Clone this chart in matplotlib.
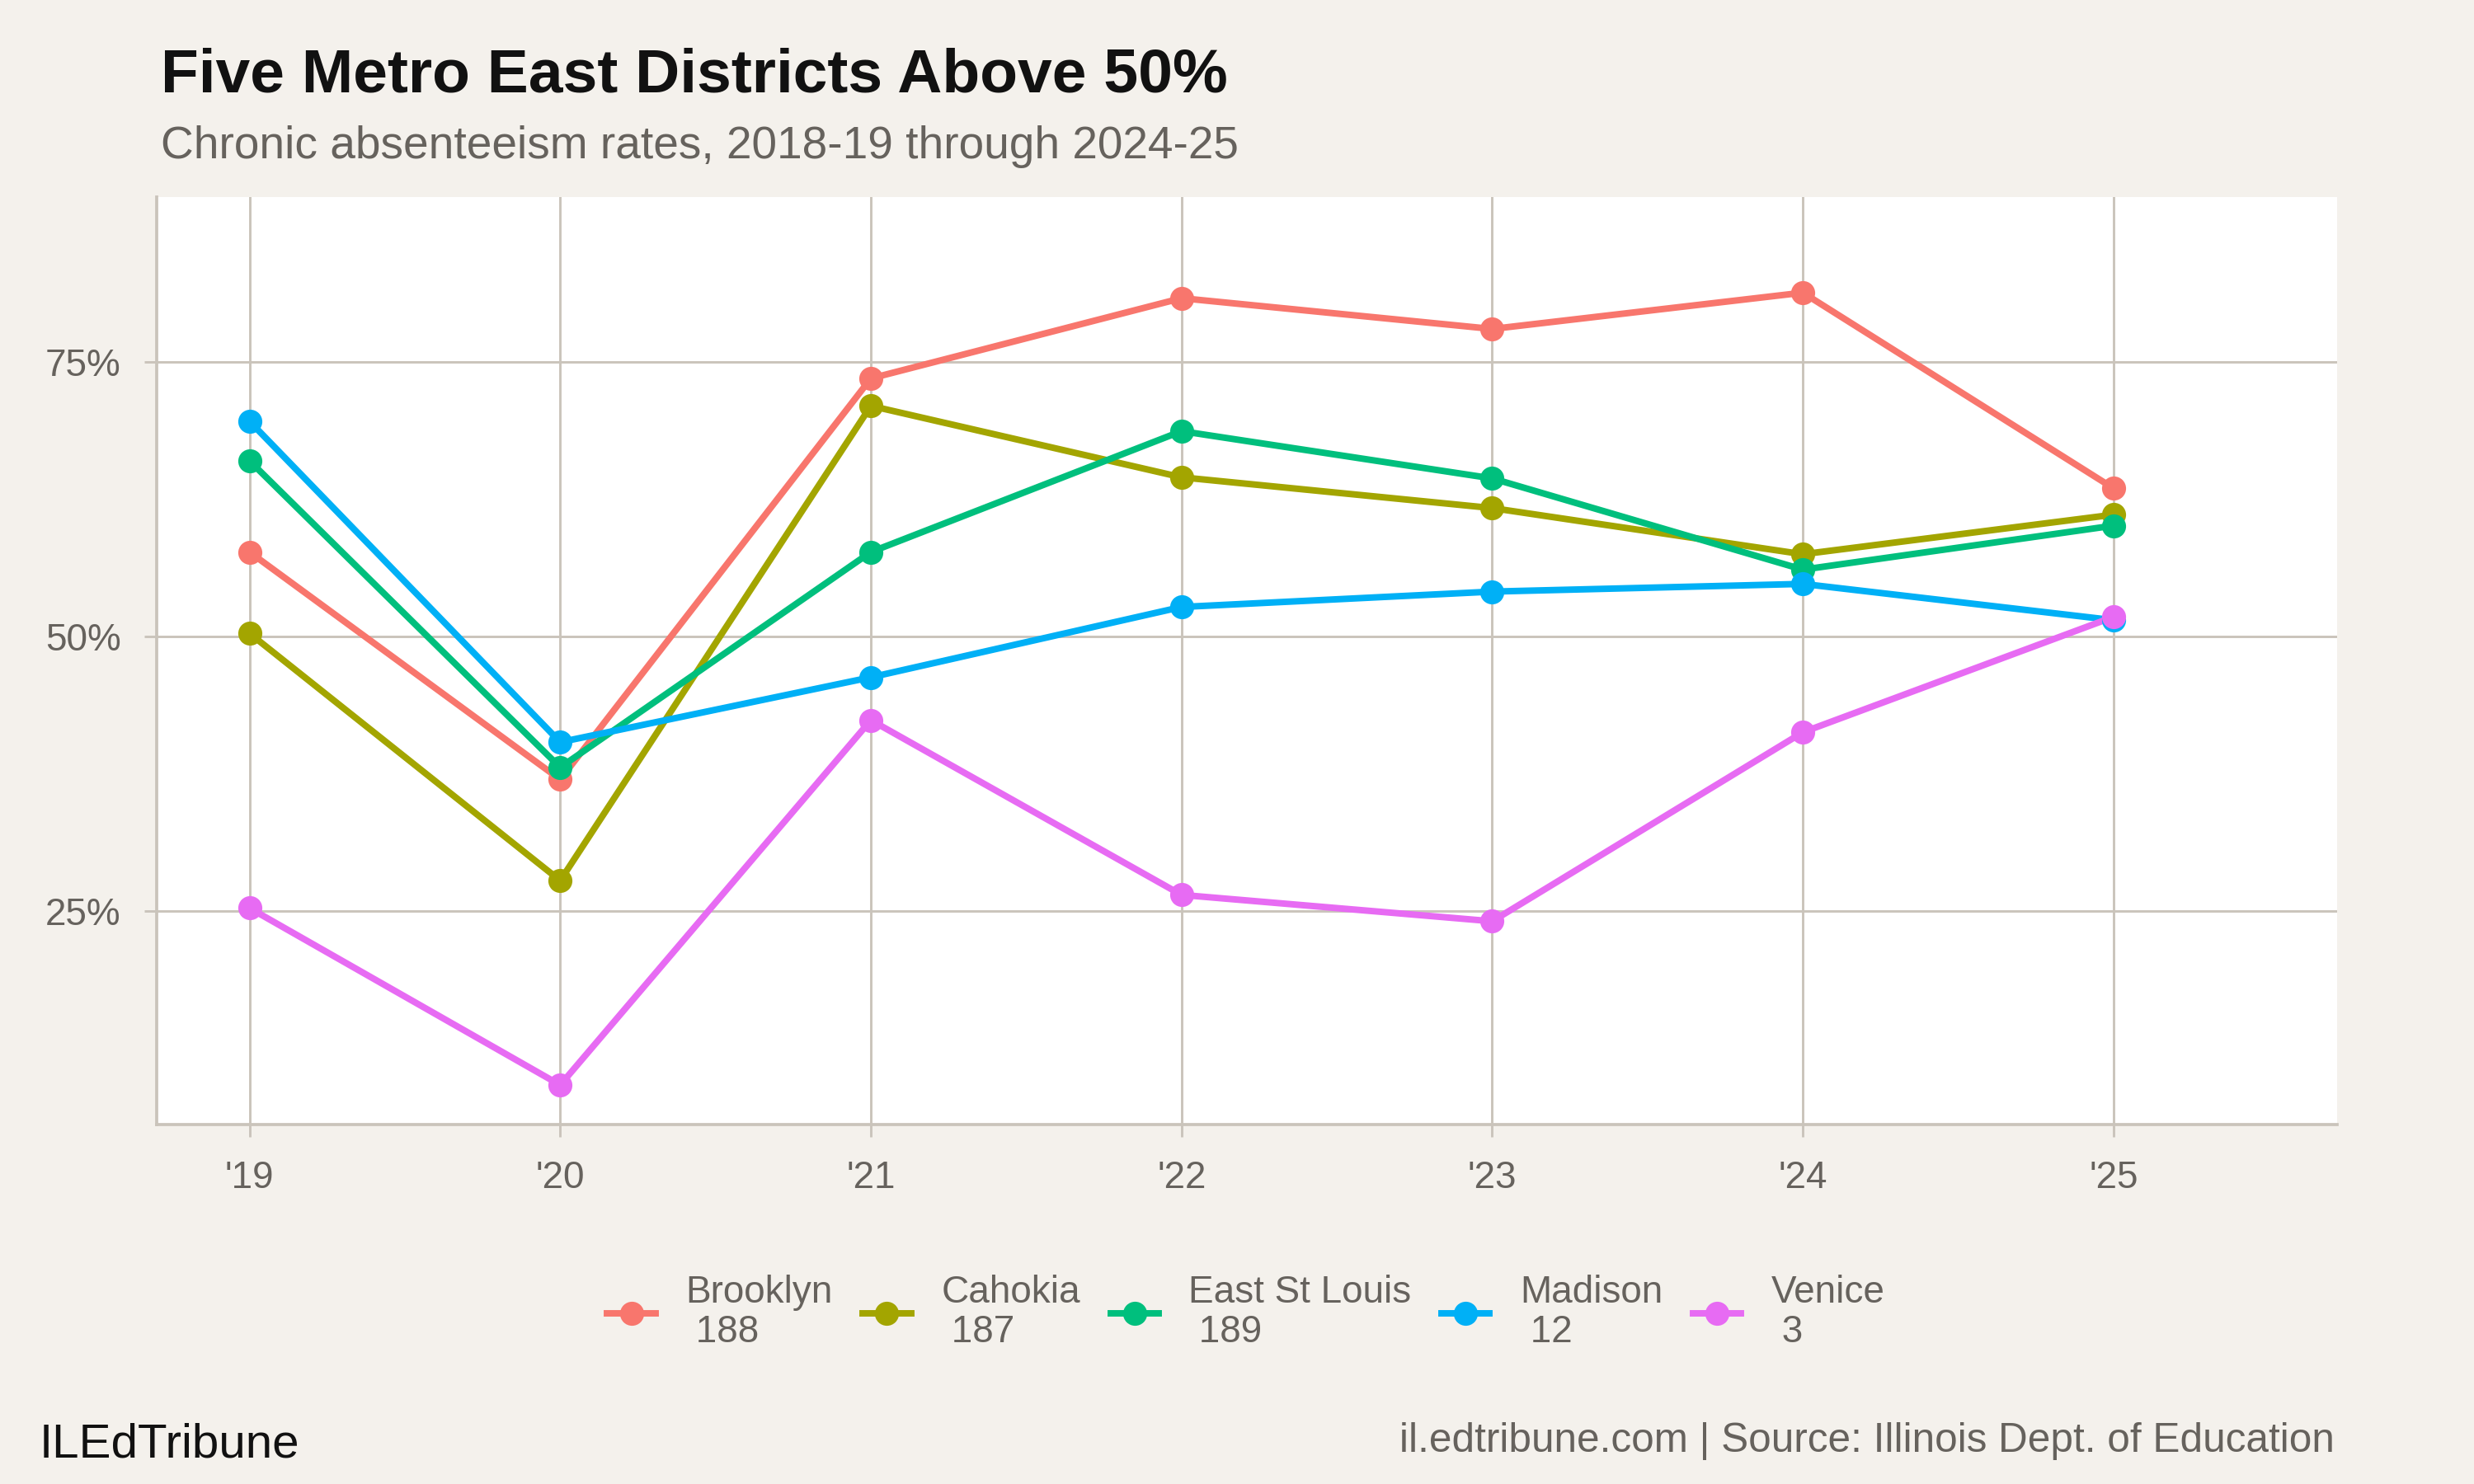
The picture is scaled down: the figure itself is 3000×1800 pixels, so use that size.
import matplotlib
matplotlib.use("Agg")
import matplotlib.pyplot as plt
from matplotlib.ticker import FuncFormatter

plt.rcParams['font.family'] = ['Liberation Sans', 'DejaVu Sans']

# school years (spring year) and labels
years = [2019, 2020, 2021, 2022, 2023, 2024, 2025]
year_labels = ["'19", "'20", "'21", "'22", "'23", "'24", "'25"]

# chronic absenteeism rates (%)
brooklyn = [57.7, 37.0, 73.5, 80.8, 78.0, 81.3, 63.5]
cahokia = [50.3, 27.8, 71.0, 64.5, 61.7, 57.5, 61.1]
east_st_louis = [66.0, 38.1, 57.7, 68.7, 64.4, 56.1, 60.1]
madison = [69.6, 40.4, 46.3, 52.7, 54.1, 54.8, 51.5]
venice = [25.3, 9.2, 42.4, 26.5, 24.1, 41.3, 51.8]

districts = ['Brooklyn', 'Cahokia', 'East St Louis', 'Madison', 'Venice']
district_ids = ['188', '187', '189', '12', '3']
series = [brooklyn, cahokia, east_st_louis, madison, venice]
colors = ['#F8766D', '#A3A500', '#00BF7D', '#00B0F6', '#E76BF3']

y_ticks = [25, 50, 75]

BG = '#F4F1EC'
GRID = '#CAC4BB'
TXT = '#66625D'

fig = plt.figure(figsize=(10, 6), dpi=300, facecolor=BG)
ax = fig.add_axes([0.0632, 0.2422, 0.8815, 0.6250])
ax.set_facecolor('white')

# lines first, then points (like geom_line + geom_point)
for vals, c in zip(series, colors):
    ax.plot(years, vals, color=c, linewidth=1.9, solid_capstyle='butt', zorder=3)
handles = []
for vals, c in zip(series, colors):
    ax.plot(years, vals, linestyle='none', marker='o', markersize=7,
            markeredgewidth=0, color=c, zorder=4)
    h, = ax.plot([], [], color=c, linewidth=1.9, marker='o', markersize=7,
                 markeredgewidth=0)
    handles.append(h)

ax.set_xlim(2018.70, 2025.72)
ax.set_ylim(5.6, 90)
ax.set_xticks(years)
ax.set_xticklabels(year_labels)
ax.set_yticks(y_ticks)
ax.yaxis.set_major_formatter(FuncFormatter(lambda v, p: f"{v:.0f}%"))

ax.grid(True, color=GRID, linewidth=0.7, zorder=0)
ax.set_axisbelow(True)
for s in ['top', 'right']:
    ax.spines[s].set_visible(False)
for s in ['left', 'bottom']:
    ax.spines[s].set_color(GRID)
    ax.spines[s].set_linewidth(0.9)
ax.tick_params(axis='both', direction='out', length=3.5, width=0.7, color=GRID,
               labelcolor=TXT, labelsize=11, pad=6.8)

# titles
fig.text(0.0649, 0.9383, 'Five Metro East Districts Above 50%', fontsize=18,
         fontweight='bold', color='#111111', ha='left', va='baseline')
fig.text(0.0649, 0.8933, 'Chronic absenteeism rates, 2018-19 through 2024-25',
         fontsize=13.2, color=TXT, ha='left', va='baseline')

# legend
labels = [f"{d}\n {i}" for d, i in zip(districts, district_ids)]
leg = fig.legend(handles, labels, loc='center', bbox_to_anchor=(0.5037, 0.1157),
                 ncol=5, frameon=False, fontsize=11, handlelength=1.27,
                 handletextpad=0.8, columnspacing=0.8, labelcolor=TXT)
for t in leg.get_texts():
    t.set_linespacing(1.12)

# footer
fig.text(0.016, 0.0183, 'ILEdTribune', fontsize=14, color='#111111',
         ha='left', va='baseline')
fig.text(0.9437, 0.0217, 'il.edtribune.com | Source: Illinois Dept. of Education',
         fontsize=11.9, color=TXT, ha='right', va='baseline')

fig.savefig('out.png', dpi=300, facecolor=BG)
